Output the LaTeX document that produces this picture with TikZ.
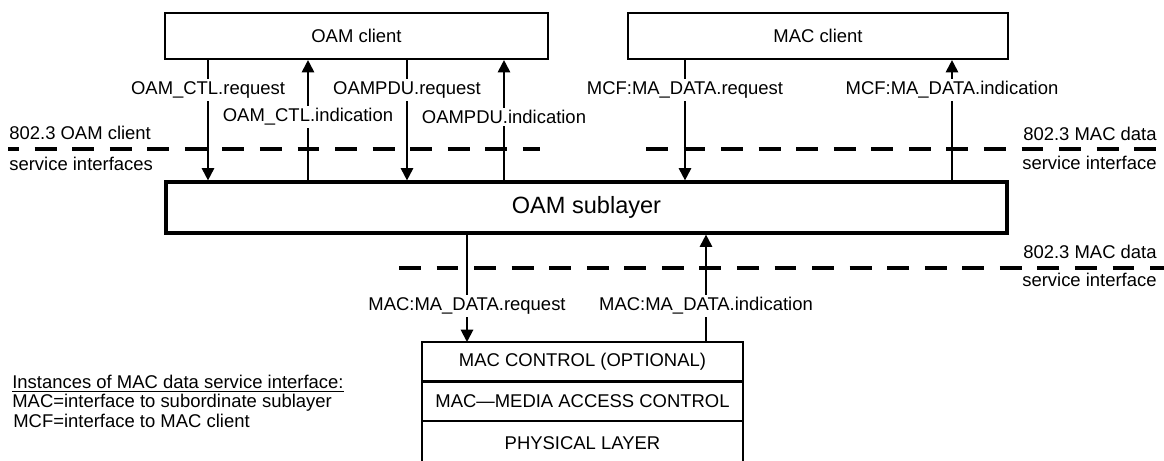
\documentclass[tikz,border=0pt]{standalone}
\usepackage{fontspec}
\setmainfont{Liberation Sans}
\usetikzlibrary{arrows.meta, positioning}

\begin{document}
\begin{tikzpicture}[
    box/.style={draw, line width=1.2pt, inner sep=0pt, font=\fontsize{10.5}{12}\selectfont},
    layer/.style={box, outer sep=0pt, minimum width=6.42cm, minimum height=0.79cm},
    lbl/.style={fill=white, inner sep=1.5pt, font=\fontsize{10.5}{12}\selectfont},
    note/.style={inner sep=0pt, font=\fontsize{10.5}{12}\selectfont},
    sig/.style={line width=1.1pt, -{Triangle[length=7pt,width=7pt]}},
    iface/.style={line width=1.9pt, dash pattern=on 12.47pt off 8.9pt}
]
    \clip (0,0) rectangle (23.28,9.2);
    % clients and OAM sublayer
    \node[box, minimum width=7.66cm, minimum height=0.92cm] (oamcli) at (7.13,8.48) {OAM client};
    \node[box, minimum width=7.60cm, minimum height=0.92cm] (maccli) at (16.36,8.48) {MAC client};
    \node[box, line width=1.8pt, minimum width=16.82cm, minimum height=1.02cm,
          font=\fontsize{13.4}{15}\selectfont] (oamsub) at (11.73,5.05) {OAM sublayer};
    % MAC stack
    \node[layer] (macctl) at (11.65,1.965) {MAC CONTROL (OPTIONAL)};
    \node[layer, below=0pt of macctl] (macmac) {MAC—MEDIA ACCESS CONTROL};
    \node[layer, below=0pt of macmac, minimum height=0.88cm] (macphy) {PHYSICAL LAYER};
    % service interfaces
    \draw[iface, dash phase=6.2pt] (0.16,6.22) -- (10.80,6.22);
    \draw[iface] (12.92,6.22) -- (23.28,6.22);
    \draw[iface] (7.98,3.84) -- (23.28,3.84);
    \node[note, anchor=west] (oamif) at (0.18,6.54) {802.3 OAM client};
    \node[note, anchor=west] (oamifb) at (0.18,5.92) {service interfaces};
    \node[note, anchor=east] (mcfif) at (23.14,6.52) {802.3 MAC data};
    \node[note, anchor=east] (mcfifb) at (23.14,5.94) {service interface};
    \node[note, anchor=east] (macif) at (23.14,4.16) {802.3 MAC data};
    \node[note, anchor=east] (macifb) at (23.14,3.60) {service interface};
    % primitives
    \foreach \n/\x/\y/\src/\dst/\t in {
        ctlreq/4.16/7.40/oamcli.south/oamsub.north/OAM\_CTL.request,
        ctlind/6.16/6.86/oamsub.north/oamcli.south/OAM\_CTL.indication,
        pdureq/8.14/7.40/oamcli.south/oamsub.north/OAMPDU.request,
        pduind/10.08/6.86/oamsub.north/oamcli.south/OAMPDU.indication,
        mcfreq/13.70/7.40/maccli.south/oamsub.north/MCF:MA\_DATA.request,
        mcfind/19.04/7.40/oamsub.north/maccli.south/MCF:MA\_DATA.indication,
        macreq/9.34/3.08/oamsub.south/macctl.north/MAC:MA\_DATA.request,
        macind/14.12/3.08/macctl.north/oamsub.south/MAC:MA\_DATA.indication} {
        \coordinate (\n) at (\x,\y);
        \draw[sig] (\src -| \n) -- (\dst -| \n);
        \node[lbl] (\n-l) at (\n) {\t};
    }
    % legend
    \node[note, anchor=west] (lgd) at (0.24,1.52) {\underline{Instances of MAC data service interface:}};
    \node[note, anchor=west] (lgdmac) at (0.24,1.14) {MAC=interface to subordinate sublayer};
    \node[note, anchor=west] (lgdmcf) at (0.26,0.78) {MCF=interface to MAC client};
\end{tikzpicture}
\end{document}
